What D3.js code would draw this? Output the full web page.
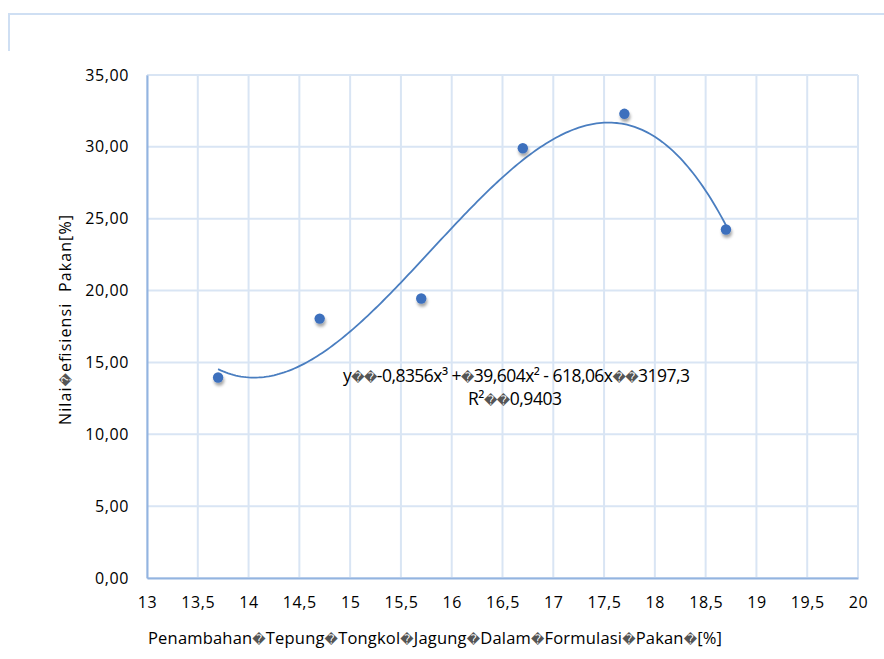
<!DOCTYPE html>
<html>
<head>
<meta charset="utf-8">
<script src="https://cdn.jsdelivr.net/npm/d3@7"></script>
<style>
  html, body { margin: 0; padding: 0; background: #fff; }
  svg { display: block; }
  text { font-family: "Open Sans", "DejaVu Sans", sans-serif; fill: #000; white-space: pre; }
</style>
</head>
<body>
<svg id="chart" width="884" height="659"></svg>
<script>
// ---- data ----
const xValues = [13.7, 14.7, 15.7, 16.7, 17.7, 18.7];
const yValues = [13.95, 18.05, 19.45, 29.9, 32.3, 24.25];
const xTicks = [13, 13.5, 14, 14.5, 15, 15.5, 16, 16.5, 17, 17.5, 18, 18.5, 19, 19.5, 20];
const yTicks = [0, 5, 10, 15, 20, 25, 30, 35];
// trendline coefficients as printed on chart (cubic, highest power first)
const trendCoef = [-0.8356, 39.604, -618.06, 3197.3];
const trendRange = [13.7, 18.7];
const equationText = "y\uFFFD\uFFFD-0,8356x\u00B3 +\uFFFD39,604x\u00B2 - 618,06x\uFFFD\uFFFD3197,3";
const r2Text = "R\u00B2\uFFFD\uFFFD0,9403";
const xTitle = "Penambahan\uFFFDTepung\uFFFDTongkol\uFFFDJagung\uFFFDDalam\uFFFDFormulasi\uFFFDPakan\uFFFD[%]";
const yTitle = "Nilai\uFFFDefisiensi  Pakan[%]";

// ---- layout ----
const svg = d3.select("#chart");
const x = d3.scaleLinear().domain([13, 20]).range([147, 858]);
const y = d3.scaleLinear().domain([0, 35]).range([578, 75]);
const gridColor = "#D9E5F4";
const axisColor = "#93B4E0";
const markColor = "#3D70BD";
const lineColor = "#4A7EC0";

// outer (cropped) chart-area border
svg.append("path")
  .attr("d", "M9,51 L9,14 L884,14")
  .attr("fill", "none").attr("stroke", "#CFDFF3").attr("stroke-width", 2);

const defs = svg.append("defs");
const f = defs.append("filter").attr("id", "shadow").attr("x", "-100%").attr("y", "-100%").attr("width", "300%").attr("height", "300%");
f.append("feDropShadow").attr("dx", 1).attr("dy", 3).attr("stdDeviation", 1.8)
  .attr("flood-color", "#000").attr("flood-opacity", 0.35);

// gridlines
const grid = svg.append("g");
grid.selectAll("line.v").data(xTicks).join("line")
  .attr("x1", d => x(d)).attr("x2", d => x(d))
  .attr("y1", y(35)).attr("y2", y(0))
  .attr("stroke", gridColor).attr("stroke-width", 2);
grid.selectAll("line.h").data(yTicks).join("line")
  .attr("x1", x(13)).attr("x2", x(20))
  .attr("y1", d => y(d)).attr("y2", d => y(d))
  .attr("stroke", gridColor).attr("stroke-width", 2);

// axes
const fmtY = d => d3.format(".2f")(d).replace(".", ",");
const fmtX = d => String(d).replace(".", ",");

const yAxis = svg.append("g").attr("transform", `translate(${x(13)},0)`)
  .call(d3.axisLeft(y).tickValues(yTicks).tickFormat(fmtY).tickSize(0).tickPadding(18));
const xAxis = svg.append("g").attr("transform", `translate(0,${y(0)})`)
  .call(d3.axisBottom(x).tickValues(xTicks).tickFormat(fmtX).tickSize(0).tickPadding(19));
[yAxis, xAxis].forEach(g => {
  g.select(".domain").attr("stroke", axisColor).attr("stroke-width", 2);
  g.selectAll("text").attr("font-size", 16).attr("letter-spacing", 0.6)
    .attr("font-family", "'Open Sans', sans-serif").attr("fill", "#000");
});

// trendline
const trendY = xv => trendCoef.reduce((acc, c) => acc * xv + c, 0);
const nSamp = 200;
const trendPts = d3.range(nSamp + 1).map(i => {
  const xv = trendRange[0] + (trendRange[1] - trendRange[0]) * i / nSamp;
  return [xv, trendY(xv)];
});
svg.append("path")
  .datum(trendPts)
  .attr("fill", "none").attr("stroke", lineColor).attr("stroke-width", 1.8)
  .attr("d", d3.line().x(d => x(d[0])).y(d => y(d[1])));

// markers
svg.append("g").selectAll("circle").data(xValues.map((v, i) => [v, yValues[i]])).join("circle")
  .attr("cx", d => x(d[0])).attr("cy", d => y(d[1])).attr("r", 5.2)
  .attr("fill", markColor).attr("filter", "url(#shadow)");

// text helper: missing-glyph marks drawn smaller/greyer, like the reference boxes
function richText(sel, str, boxSize) {
  const parts = str.split(/(\uFFFD)/).filter(s => s.length);
  parts.forEach(p => {
    const t = sel.append("tspan").text(p);
    if (p === "\uFFFD") t.attr("font-size", boxSize).attr("fill", "#555").attr("font-family", "'DejaVu Sans', sans-serif");
  });
  return sel;
}

// equation labels
richText(svg.append("text").attr("x", 343).attr("y", 382).attr("font-size", 17.5)
  .attr("textLength", 347).attr("lengthAdjust", "spacing"), equationText, 13);
richText(svg.append("text").attr("x", 468).attr("y", 405).attr("font-size", 17.5)
  .attr("textLength", 94).attr("lengthAdjust", "spacing"), r2Text, 13);

// axis titles
richText(svg.append("text").attr("x", 148).attr("y", 644).attr("font-size", 16.5)
  .attr("textLength", 574).attr("lengthAdjust", "spacing"), xTitle, 13);
richText(svg.append("text").attr("transform", "translate(71,425) rotate(-90)")
  .attr("x", 0).attr("y", 0).attr("font-size", 16)
  .attr("textLength", 210).attr("lengthAdjust", "spacing"), yTitle, 13);
</script>
</body>
</html>
